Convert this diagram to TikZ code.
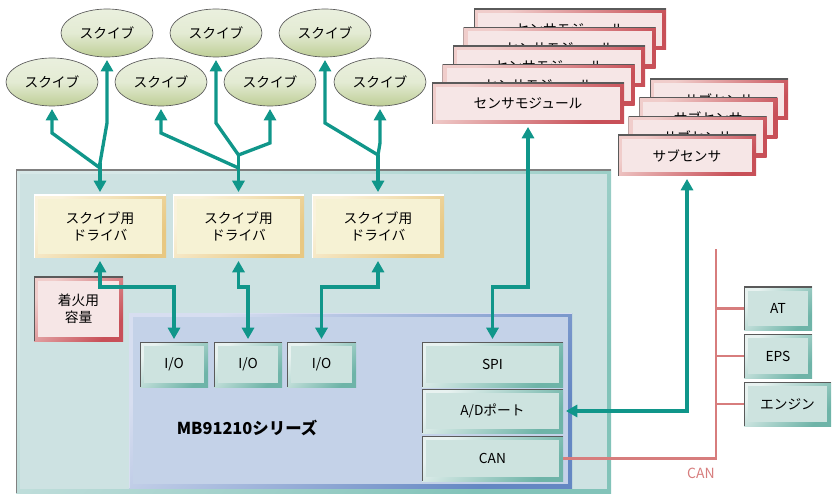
\documentclass[tikz,border=0pt]{standalone}
\usepackage{fontspec}
\setmainfont{Noto Sans CJK JP}
\usetikzlibrary{arrows.meta,fit,shapes.geometric}
\definecolor{arrc}{RGB}{16,150,138}
\definecolor{canc}{RGB}{215,125,125}
\definecolor{tealL}{RGB}{232,242,240}
\definecolor{tealD}{RGB}{110,180,168}
\definecolor{tealI}{RGB}{205,227,223}
\definecolor{pinkL}{RGB}{240,205,203}
\definecolor{pinkD}{RGB}{200,80,88}
\definecolor{pinkI}{RGB}{246,230,230}
\definecolor{yelL}{RGB}{250,242,220}
\definecolor{yelD}{RGB}{232,200,130}
\definecolor{yelI}{RGB}{246,242,212}
\definecolor{mbL}{RGB}{215,222,240}
\definecolor{mbD}{RGB}{100,135,195}
\definecolor{mbI}{RGB}{196,210,232}
\definecolor{outL}{RGB}{215,232,232}
\definecolor{outD}{RGB}{130,195,185}
\definecolor{outI}{RGB}{205,226,226}
\definecolor{ellT}{RGB}{234,240,222}
\definecolor{ellB}{RGB}{190,206,150}
\definecolor{edge}{RGB}{90,90,90}
\tikzset{
  bevel/.style n args={4}{rectangle, inner sep=0pt, align=center,
    top color=#1, bottom color=#2, shading angle=45,
    path picture={
      \fill[#3] ([shift={(3pt,-3pt)}]path picture bounding box.north west) rectangle ([shift={(-3pt,3pt)}]path picture bounding box.south east);
      \draw[#4, line width=1pt] (path picture bounding box.south west) -- (path picture bounding box.north west) -- (path picture bounding box.north east);
    }},
  tealbox/.style={bevel={tealL}{tealD}{tealI}{edge}},
  pinkbox/.style={bevel={pinkL}{pinkD}{pinkI}{edge}},
  yelbox/.style={bevel={yelL}{yelD}{yelI}{white}},
  mbbox/.style={bevel={mbL}{mbD}{mbI}{mbL}},
  outbox/.style={bevel={outL}{outD}{outI}{gray}},
  squib/.style={ellipse, draw=edge, line width=0.5pt, top color=ellT, bottom color=ellB, middle color=ellT!85!ellB,
    minimum width=69pt, minimum height=36pt, inner sep=0pt},
  conn/.style={draw=arrc, line width=2.5pt, shorten >=2pt},
  bconn/.style={draw=arrc, line width=2.5pt, shorten >=2pt, shorten <=2pt, <->},
  canline/.style={draw=canc, line width=2pt},
}
\begin{document}
\begin{tikzpicture}[x=0.75pt,y=-0.75pt,
  every node/.style={font=\fontsize{10.3}{13}\selectfont, align=center},
  >={Triangle[length=8.5pt,width=9pt]}]
\useasboundingbox (0,0) rectangle (835,495);

% main board
\node[outbox, fit={(16,170)(611,493)}] (board) {};
\node[mbbox, fit={(129,313)(572,488)}] (mb) {};
\node[font=\bfseries\fontsize{12.3}{14}\selectfont] (mblabel) at (247,428) {MB91210シリーズ};

% drivers
\node[yelbox, fit={(34,195)(166,258)}] (d1) {};
\node at (d1) {スクイブ用\\ドライバ};
\node[yelbox, fit={(173,195)(304,258)}] (d2) {};
\node at (d2) {スクイブ用\\ドライバ};
\node[yelbox, fit={(312,195)(444,258)}] (d3) {};
\node at (d3) {スクイブ用\\ドライバ};
\node[pinkbox, fit={(34,277)(123,341)}] (ign) {};
\node at (ign) {着火用\\容量};

% peripherals
\node[tealbox, fit={(140,342)(208,387)}] (io1) {};
\node at (io1) {I/O};
\node[tealbox, fit={(214,342)(282,387)}] (io2) {};
\node at (io2) {I/O};
\node[tealbox, fit={(287,342)(356,387)}] (io3) {};
\node at (io3) {I/O};
\node[tealbox, fit={(422,342)(563,387)}] (spi) {};
\node at (spi) {SPI};
\node[tealbox, fit={(422,389)(563,433)}] (ad) {};
\node at (ad) {A/Dポート};
\node[tealbox, fit={(422,436)(563,481)}] (can) {};
\node at (can) {CAN};

% CAN nodes
\node[tealbox, fit={(744,287)(812,330)}] (at) {};
\node at (at) {AT};
\node[tealbox, fit={(744,334)(812,378)}] (eps) {};
\node at (eps) {EPS};
\node[tealbox, fit={(744,382)(831,426)}] (eng) {};
\node at (eng) {エンジン};

% squibs
\node[squib] (s1) at (107,33) {スクイブ};
\node[squib] (s2) at (216,33) {スクイブ};
\node[squib] (s3) at (325,33) {スクイブ};
\node[squib] (s4) at (52,82) {スクイブ};
\node[squib] (s5) at (161,82) {スクイブ};
\node[squib] (s6) at (270,82) {スクイブ};
\node[squib] (s7) at (380,82) {スクイブ};

% sensor modules
\foreach \i/\cx/\cy in {4/570/29.5,3/559.5/48,2/549/66.5,1/538.5/85}{
  \node[pinkbox, minimum width=144pt, minimum height=30.75pt] (sm\i) at (\cx,\cy) {センサモジュール};
}
\node[pinkbox, minimum width=144pt, minimum height=30.75pt] (sm) at (528,103.5) {センサモジュール};
\foreach \i/\cx/\cy in {3/719/99.5,2/708.3/118.2,1/697.6/136.8}{
  \node[pinkbox, minimum width=103.5pt, minimum height=30.75pt] (ss\i) at (\cx,\cy) {サブセンサ};
}
\node[pinkbox, minimum width=103.5pt, minimum height=30.75pt] (ss) at (687,155.5) {サブセンサ};

% squib trees
\coordinate (j1) at (100,163);
\coordinate (j1l) at (100,168);
\coordinate (b1) at (107,123);
\coordinate (b4) at (52,133);
\draw[conn,->] (j1) -- (d1.north);
\draw[conn,->,line cap=round] (j1) -- (b1) -- (s1.south);
\draw[conn,->,line cap=round] (j1l) -- (b4) -- (s4.south);

\coordinate (j2) at (238.5,155);
\coordinate (j2l) at (238.5,168);
\coordinate (b5) at (161,133);
\coordinate (b2) at (216,123);
\coordinate (b6) at (270,143);
\draw[conn,->] (j2) -- (d2.north);
\draw[conn,->,line cap=round] (j2l) -- (b5) -- (s5.south);
\draw[conn,->,line cap=round] (j2) -- (b2) -- (s2.south);
\draw[conn,->,line cap=round] (j2) -- (b6) -- (s6.south);

\coordinate (j3) at (378,155);
\coordinate (b3) at (325,123);
\coordinate (b7) at (380,143);
\draw[conn,->] (j3) -- (d3.north);
\draw[conn,->,line cap=round] (j3) -- (b3) -- (s3.south);
\draw[conn,->,line cap=round] (j3) -- (b7) -- (s7.south);

% driver to I/O
\draw[bconn] (d1.south) -- (100,287) -- (174,287) -- (io1.north);
\draw[bconn] (d2.south) -- (238.5,287) -- (248,287) -- (io2.north);
\draw[bconn] (d3.south) -- (378,287) -- (321.5,287) -- (io3.north);

% sensors
\draw[bconn] (spi.north) -- (492.5,287) -- (528,287) -- (sm.south);
\draw[bconn] (ss.south) -- (687,411) -- (ad.east);

% CAN bus
\coordinate (bustop) at (716,249);
\coordinate (busbot) at (716,458.5);
\draw[canline] (can.east) -- (busbot) -- (bustop);
\draw[canline] (at.west -| bustop) -- (at.west);
\draw[canline] (eps.west -| bustop) -- (eps.west);
\draw[canline] (eng.west -| bustop) -- (eng.west);
\node[text=canc, font=\fontsize{10.5}{12}\selectfont] (canlabel) at (701,473) {CAN};
\end{tikzpicture}
\end{document}
